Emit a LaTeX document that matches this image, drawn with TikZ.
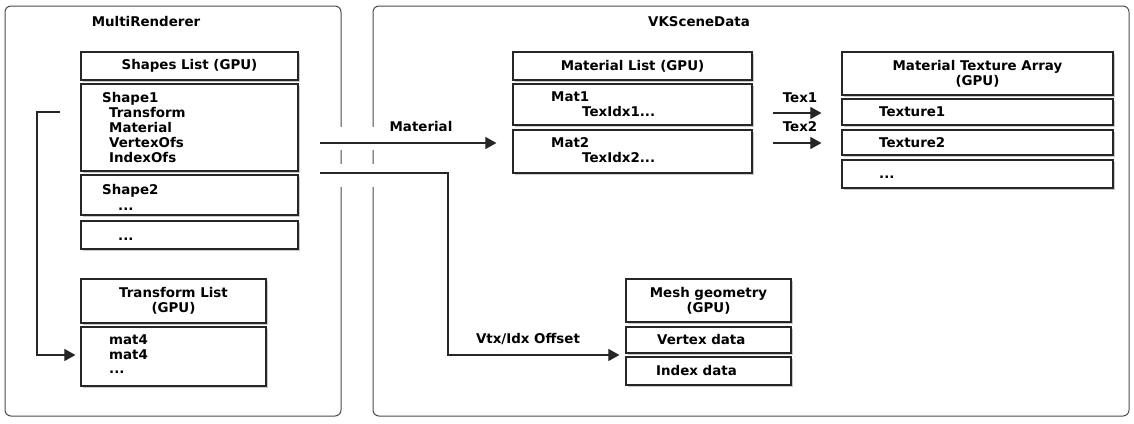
\documentclass[tikz,border=0pt]{standalone}
\usepackage{fontspec}
\setmainfont{DejaVu Sans}
\usetikzlibrary{arrows.meta,shadows,calc}
\begin{document}
\begin{tikzpicture}[x=1pt,y=-1pt,
  lbl/.style={font=\bfseries\fontsize{13.4}{15}\selectfont, inner sep=0pt, text height=9.5pt, text depth=0pt},
  cont/.style={draw=black!70, line width=1pt, rounded corners=6pt},
  box/.style={draw=black!85, line width=1.2pt, fill=white, inner sep=0pt,
    font=\bfseries\fontsize{13.4}{15}\selectfont, align=center,
    drop shadow={shadow xshift=2pt, shadow yshift=-2pt, fill=black!35, opacity=0.6}},
  conn/.style={draw=black!85, line width=1.1pt},
  arr/.style={conn, -{Triangle[length=11pt,width=12pt]}}]
\useasboundingbox (0,0) rectangle (1134,423);
% containers
\draw[cont] (5,6) rectangle (341,416);
\draw[cont] (373,6) rectangle (1129,416);
\fill[white] (335,127) rectangle (380,150);
\fill[white] (335,164) rectangle (380,187);
\node[lbl] (mr) at (146,22) {MultiRenderer};
\node[lbl] (vk) at (699,22) {VKSceneData};
% shapes list
\node[box, minimum width=217pt, minimum height=28pt] (shh) at (189.5,66) {Shapes List (GPU)};
\node[box, minimum width=217pt, minimum height=87pt] (s1) at (189.5,127.5) {};
\node[box, minimum width=217pt, minimum height=40pt] (s2) at (189.5,195) {};
\node[box, minimum width=217pt, minimum height=28pt] (s3) at (189.5,235) {};
\node[lbl, anchor=west] (s1a) at (102,98) {Shape1};
\node[lbl, anchor=west] (s1b) at (109,112.5) {Transform};
\node[lbl, anchor=west] (s1c) at (109,127.5) {Material};
\node[lbl, anchor=west] (s1d) at (109,142.5) {VertexOfs};
\node[lbl, anchor=west] (s1e) at (109,157.5) {IndexOfs};
\node[lbl, anchor=west] (s2a) at (102,190) {Shape2};
\node[lbl, anchor=west] (s2b) at (118,206) {...};
\node[lbl, anchor=west] (s3a) at (118,236) {...};
% transform list
\node[box, minimum width=185pt, minimum height=44pt] (tlh) at (173.5,301) {Transform List\\(GPU)};
\node[box, minimum width=185pt, minimum height=59pt] (tl) at (173.5,356.5) {};
\node[lbl, anchor=west] (tla) at (109,340) {mat4};
\node[lbl, anchor=west] (tlb) at (109,355) {mat4};
\node[lbl, anchor=west] (tlc) at (109,369) {...};
% material list
\node[box, minimum width=239pt, minimum height=28pt] (mlh) at (632.5,66) {Material List (GPU)};
\node[box, minimum width=239pt, minimum height=41pt] (m1) at (632.5,104.5) {};
\node[box, minimum width=239pt, minimum height=43pt] (m2) at (632.5,151.5) {};
\node[lbl, anchor=west] (m1a) at (551,97) {Mat1};
\node[lbl, anchor=west] (m1b) at (582,112) {TexIdx1...};
\node[lbl, anchor=west] (m2a) at (551,143) {Mat2};
\node[lbl, anchor=west] (m2b) at (582,158) {TexIdx2...};
% material texture array
\node[box, minimum width=271pt, minimum height=43pt] (mth) at (977.5,73.5) {Material Texture Array\\(GPU)};
\node[box, minimum width=271pt, minimum height=26pt] (t1) at (977.5,112) {};
\node[box, minimum width=271pt, minimum height=25pt] (t2) at (977.5,142.5) {};
\node[box, minimum width=271pt, minimum height=28pt] (t3) at (977.5,174) {};
\node[lbl, anchor=west] (t1a) at (879,112) {Texture1};
\node[lbl, anchor=west] (t2a) at (879,143) {Texture2};
\node[lbl, anchor=west] (t3a) at (879,174) {...};
% mesh geometry
\node[box, minimum width=165pt, minimum height=43pt] (mgh) at (708.5,300.5) {Mesh geometry\\(GPU)};
\node[box, minimum width=165pt, minimum height=26pt] (vd) at (708.5,340) {};
\node[box, minimum width=165pt, minimum height=28pt] (id) at (708.5,371) {};
\node[lbl, anchor=west] (vda) at (657,340) {Vertex data};
\node[lbl, anchor=west] (ida) at (656,371) {Index data};
% connectors
\coordinate (lstart) at (60,112);
\draw[arr] (lstart) -- (37,112) |- ([xshift=-5pt,yshift=1.5pt]tl.west);
\coordinate (mstart) at (320,143);
\draw[arr] (mstart) -- ([xshift=-16pt,yshift=8.5pt]m2.west);
\node[lbl] (mlab) at (421,127) {Material};
\coordinate (vstart) at (320,173);
\draw[arr] (vstart) -- (448,173) |- ($(vd.south west)!0.5!(id.north west)+(-6,0)$);
\node[lbl] (vlab) at (528,339) {Vtx/Idx Offset};
\coordinate (tx1) at (773,113);
\coordinate (tx2) at (773,143);
\draw[arr] (tx1) -- ([xshift=-20pt,yshift=-1pt]t1.west);
\draw[arr] (tx2) -- ([xshift=-20pt,yshift=-0.5pt]t2.west);
\node[lbl] (tx1l) at (800,98) {Tex1};
\node[lbl] (tx2l) at (800,127) {Tex2};
\end{tikzpicture}
\end{document}
